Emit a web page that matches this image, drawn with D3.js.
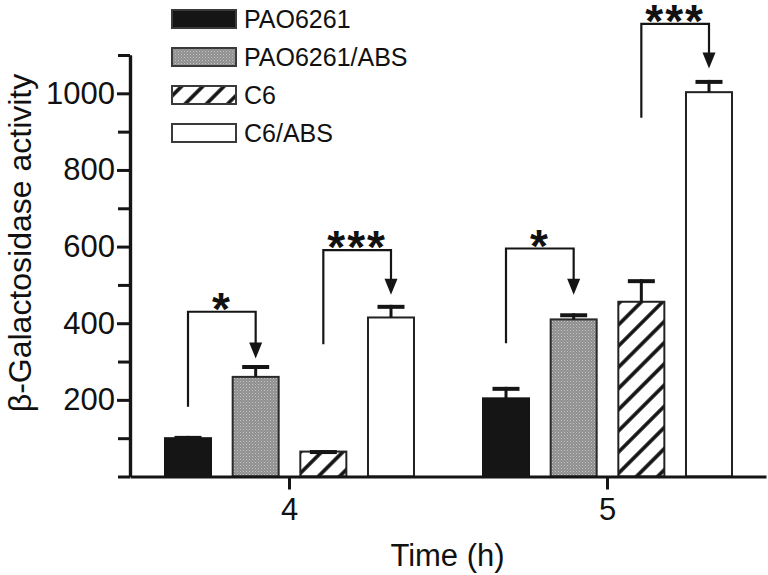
<!DOCTYPE html>
<html>
<head>
<meta charset="utf-8">
<script src="https://cdn.jsdelivr.net/npm/d3@7"></script>
<style>
  html, body { margin: 0; padding: 0; background: #fff; }
  svg { display: block; }
  text { font-family: "Liberation Sans", Arial, sans-serif; fill: #111; }
</style>
</head>
<body>
<svg id="chart" width="768" height="575"></svg>
<script>
// ---- data ----
const times = ["4", "5"];
const series = ["PAO6261", "PAO6261/ABS", "C6", "C6/ABS"];
const means4 = [100, 260, 65, 415];
const means5 = [204, 410, 456, 1003];
const errors4 = [6, 31, 4, 33];
const errors5 = [30, 16, 59, 32];
const majorTicks = [200, 400, 600, 800, 1000];
const minorTicks = [0, 100, 300, 500, 700, 900, 1100];
const bracketTime = ["4", "4", "5", "5"];
const bracketFrom = [0, 2, 0, 2];
const bracketTo = [1, 3, 1, 3];
const bracketStart = [182, 345, 348, 936];
const bracketTop = [430, 591, 595, 1181];
const bracketTip = [308, 474, 474, 1065];
const bracketLabel = ["*", "***", "*", "***"];

const rows = [];
times.forEach((t, ti) => {
  const m = ti === 0 ? means4 : means5;
  const e = ti === 0 ? errors4 : errors5;
  series.forEach((s, si) => rows.push({ time: t, series: s, si, mean: m[si], err: e[si] }));
});

const svg = d3.select("#chart");

// ---- scales ----
const x0 = d3.scalePoint().domain(times).range([130, 766]).padding(0.5);
const x1 = d3.scaleBand().domain(series).range([-124, 125]).paddingInner(0.32).paddingOuter(0);
const y = d3.scaleLinear().domain([0, 1100]).range([476.5, 55]);

// ---- patterns ----
const defs = svg.append("defs");
const dots = defs.append("pattern").attr("id", "dots").attr("patternUnits", "userSpaceOnUse")
  .attr("width", 3).attr("height", 3);
dots.append("rect").attr("width", 3).attr("height", 3).attr("fill", "#8f8f8f");
dots.append("rect").attr("x", 0).attr("y", 0).attr("width", 1).attr("height", 1).attr("fill", "#c4c4c4");
dots.append("rect").attr("x", 1.5).attr("y", 1.5).attr("width", 1).attr("height", 1).attr("fill", "#b4b4b4");

const hatch = defs.append("pattern").attr("id", "hatch").attr("patternUnits", "userSpaceOnUse")
  .attr("width", 15).attr("height", 15).attr("patternTransform", "rotate(45)");
hatch.append("rect").attr("width", 15).attr("height", 15).attr("fill", "#fff");
hatch.append("line").attr("x1", 7).attr("x2", 7).attr("y1", -2).attr("y2", 17)
  .attr("stroke", "#111").attr("stroke-width", 3.6);

const fills = { "PAO6261": "#151515", "PAO6261/ABS": "url(#dots)", "C6": "url(#hatch)", "C6/ABS": "#fff" };
const strokes = { "PAO6261": "#151515", "PAO6261/ABS": "#2a2a2a", "C6": "#222", "C6/ABS": "#222" };

// ---- bars ----
const barX = d => x0(d.time) + x1(d.series);
const g = svg.append("g");
g.selectAll("rect.bar").data(rows).join("rect").attr("class", "bar")
  .attr("x", barX).attr("width", x1.bandwidth())
  .attr("y", d => y(d.mean)).attr("height", d => y(0) - y(d.mean))
  .attr("fill", d => fills[d.series]).attr("stroke", d => strokes[d.series]).attr("stroke-width", 2);

// error bars
g.selectAll("line.stem").data(rows).join("line").attr("class", "stem")
  .attr("x1", d => barX(d) + x1.bandwidth() / 2).attr("x2", d => barX(d) + x1.bandwidth() / 2)
  .attr("y1", d => y(d.mean)).attr("y2", d => y(d.mean + d.err))
  .attr("stroke", "#151515").attr("stroke-width", 3);
g.selectAll("line.cap").data(rows).join("line").attr("class", "cap")
  .attr("x1", d => barX(d) + x1.bandwidth() / 2 - 13.5).attr("x2", d => barX(d) + x1.bandwidth() / 2 + 13.5)
  .attr("y1", d => y(d.mean + d.err) + 2).attr("y2", d => y(d.mean + d.err) + 2)
  .attr("stroke", "#151515").attr("stroke-width", 4);

// ---- axes ----
const yMajor = svg.append("g").attr("transform", "translate(130,0)")
  .call(d3.axisLeft(y).tickValues(majorTicks).tickFormat(d3.format("d")).tickSize(13).tickPadding(2).tickSizeOuter(0));
const yMinor = svg.append("g").attr("transform", "translate(130,0)")
  .call(d3.axisLeft(y).tickValues(minorTicks).tickSize(12).tickFormat("").tickSizeOuter(0));
[yMajor, yMinor].forEach(a => {
  a.selectAll("path.domain").attr("stroke", "#151515").attr("stroke-width", 3.2);
  a.selectAll(".tick line").attr("stroke", "#151515").attr("stroke-width", 3);
});
yMajor.selectAll(".tick text").attr("font-size", 31).attr("fill", "#111")
  .style("font-family", "'Liberation Sans', Arial, sans-serif");

const xAxis = svg.append("g").attr("transform", `translate(0,${y(0)})`)
  .call(d3.axisBottom(x0).tickSize(13).tickPadding(8).tickSizeOuter(0));
xAxis.selectAll("path.domain").attr("stroke", "#151515").attr("stroke-width", 3.2);
xAxis.selectAll(".tick line").attr("stroke", "#151515").attr("stroke-width", 3);
xAxis.selectAll(".tick text").attr("font-size", 31).attr("fill", "#111")
  .style("font-family", "'Liberation Sans', Arial, sans-serif");

// axis titles
svg.append("text").attr("transform", "translate(31,243) rotate(-90)")
  .attr("text-anchor", "middle").attr("font-size", 32).text("β-Galactosidase activity");
svg.append("text").attr("x", 447.5).attr("y", 566).attr("text-anchor", "middle")
  .attr("font-size", 31).text("Time (h)");

// ---- significance brackets ----
const bx = (t, si) => x0(t) + x1(series[si]) + x1.bandwidth() / 2;
const bIdx = d3.range(bracketLabel.length);
const bg = svg.append("g");
bg.selectAll("path.br").data(bIdx).join("path").attr("class", "br")
  .attr("d", i => {
    const xa = bx(bracketTime[i], bracketFrom[i]), xb = bx(bracketTime[i], bracketTo[i]);
    return `M${xa},${y(bracketStart[i])}V${y(bracketTop[i])}H${xb}V${y(bracketTip[i]) - 14}`;
  })
  .attr("fill", "none").attr("stroke", "#151515").attr("stroke-width", 2.2);
bg.selectAll("path.arrow").data(bIdx).join("path").attr("class", "arrow")
  .attr("d", i => {
    const xb = bx(bracketTime[i], bracketTo[i]), yt = y(bracketTip[i]);
    return `M${xb},${yt}L${xb - 6.5},${yt - 16}L${xb + 6.5},${yt - 16}Z`;
  })
  .attr("fill", "#151515");
bg.selectAll("text.star").data(bIdx).join("text").attr("class", "star")
  .attr("x", i => (bx(bracketTime[i], bracketFrom[i]) + bx(bracketTime[i], bracketTo[i])) / 2)
  .attr("y", i => y(bracketTop[i]) + 13)
  .attr("text-anchor", "middle").attr("font-size", 46).attr("font-weight", "bold")
  .attr("letter-spacing", 2)
  .text(i => bracketLabel[i]);

// ---- legend ----
const leg = svg.append("g").attr("transform", "translate(172,10)");
const li = leg.selectAll("g").data(series).join("g").attr("transform", (d, i) => `translate(0,${i * 38})`);
li.append("rect").attr("width", 64).attr("height", 18)
  .attr("fill", d => fills[d]).attr("stroke", "#3a3a3a").attr("stroke-width", 2);
li.append("text").attr("x", 72).attr("y", 18).attr("font-size", 25).text(d => d);
</script>
</body>
</html>
